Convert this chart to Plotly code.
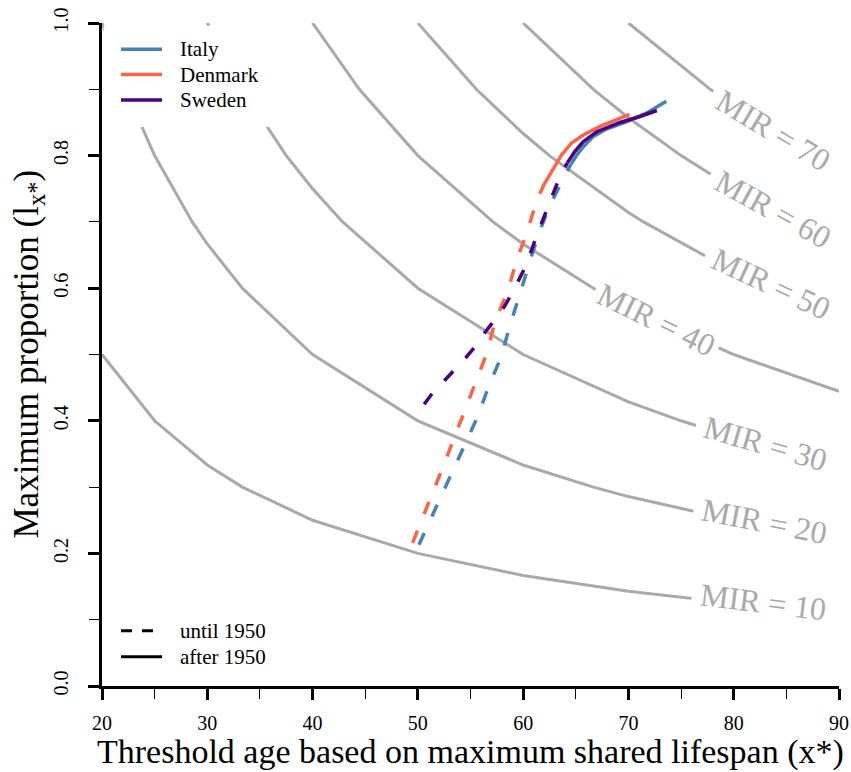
import math
import plotly.graph_objects as go

# ---------------- data ----------------
# Iso-lines of constant MIR
mir10_x = [20, 25, 30, 33.33, 40, 50, 60, 70, 80, 90]
mir10_y = [0.5, 0.4, 0.3333, 0.3, 0.25, 0.2, 0.1667, 0.1429, 0.125, 0.1111]
mir20_x = [20, 22.22, 25, 28.57, 30, 33.33, 40, 50, 60, 66.67, 70, 80, 90]
mir20_y = [1.0, 0.9, 0.8, 0.7, 0.6667, 0.6, 0.5, 0.4, 0.3333, 0.3, 0.2857, 0.25, 0.2222]
mir30_x = [30, 33.33, 37.5, 40, 42.86, 50, 60, 70, 75, 80, 90]
mir30_y = [1.0, 0.9, 0.8, 0.75, 0.7, 0.6, 0.5, 0.4286, 0.4, 0.375, 0.3333]
mir40_x = [40, 44.44, 50, 57.14, 60, 66.67, 70, 80, 90]
mir40_y = [1.0, 0.9, 0.8, 0.7, 0.6667, 0.6, 0.5714, 0.5, 0.4444]
mir50_x = [50, 55.56, 60, 62.5, 70, 71.43, 80, 83.33, 90]
mir50_y = [1.0, 0.9, 0.8333, 0.8, 0.7143, 0.7, 0.625, 0.6, 0.5556]
mir60_x = [60, 66.67, 70, 75, 80, 85.71, 90]
mir60_y = [1.0, 0.9, 0.8571, 0.8, 0.75, 0.7, 0.6667]
mir70_x = [70, 77.78, 80, 87.5, 90]
mir70_y = [1.0, 0.9, 0.875, 0.8, 0.7778]

mir_labels = ["MIR = 10", "MIR = 20", "MIR = 30", "MIR = 40", "MIR = 50", "MIR = 60", "MIR = 70"]

# Country trajectories (x* , l_x*)
italy_until_x = [50.1, 51.9, 53.2, 54.5, 55.7, 56.7, 57.9, 58.7, 59.6, 60.5, 61.4, 62.5, 63.9, 64.5]
italy_until_y = [0.213, 0.276, 0.320, 0.364, 0.407, 0.451, 0.496, 0.541, 0.588, 0.633, 0.679, 0.724, 0.769, 0.786]
italy_after_x = [64.5, 65.1, 65.7, 66.6, 67.9, 69.8, 71.7, 73.6]
italy_after_y = [0.786, 0.801, 0.813, 0.828, 0.840, 0.851, 0.864, 0.882]

denmark_until_x = [49.5, 51.1, 52.2, 53.3, 54.4, 55.5, 56.6, 57.3, 58.5, 59.4, 60.4, 61.3, 62.0]
denmark_until_y = [0.216, 0.278, 0.323, 0.368, 0.413, 0.459, 0.504, 0.549, 0.594, 0.643, 0.686, 0.733, 0.757]
denmark_after_x = [62.0, 62.85, 63.65, 64.6, 65.7, 67.3, 70.1]
denmark_after_y = [0.757, 0.781, 0.801, 0.819, 0.831, 0.844, 0.862]

sweden_until_x = [50.6, 51.4, 52.6, 53.5, 54.6, 55.5, 56.4, 57.3, 58.2, 58.9, 59.7, 60.3, 61.3, 62.4, 63.5, 64.2]
sweden_until_y = [0.425, 0.442, 0.462, 0.477, 0.496, 0.513, 0.534, 0.552, 0.572, 0.591, 0.617, 0.635, 0.680, 0.725, 0.769, 0.789]
sweden_after_x = [64.2, 64.9, 65.7, 67.0, 69.2, 71.1, 72.7]
sweden_after_y = [0.789, 0.806, 0.821, 0.836, 0.850, 0.859, 0.868]

countries = ["Italy", "Denmark", "Sweden"]
periods = ["until 1950", "after 1950"]

x_ticks = [20, 30, 40, 50, 60, 70, 80, 90]
x_minor = [25, 35, 45, 55, 65, 75, 85]
y_ticks = [0.0, 0.2, 0.4, 0.6, 0.8, 1.0]
y_ticklabels = ["0.0", "0.2", "0.4", "0.6", "0.8", "1.0"]
y_minor = [0.1, 0.3, 0.5, 0.7, 0.9]

# ---------------- styling ----------------
FONT = "Liberation Serif"
GRAY = "#A9A9A9"
COL = {"Italy": "#4682B4", "Denmark": "#FF6347", "Sweden": "#4B0082"}
DASH = "13px,18px"
PERIOD_DASH = {"until 1950": "11px,10px", "after 1950": "solid"}

fig = go.Figure()

mir_x = [mir10_x, mir20_x, mir30_x, mir40_x, mir50_x, mir60_x, mir70_x]
mir_y = [mir10_y, mir20_y, mir30_y, mir40_y, mir50_y, mir60_y, mir70_y]
for xs, ys, lab in zip(mir_x, mir_y, mir_labels):
    fig.add_trace(go.Scatter(x=xs, y=ys, mode="lines", name=lab,
                             line=dict(color=GRAY, width=3),
                             showlegend=False, hoverinfo="skip"))

series = [
    ("Italy", italy_until_x, italy_until_y, italy_after_x, italy_after_y),
    ("Denmark", denmark_until_x, denmark_until_y, denmark_after_x, denmark_after_y),
    ("Sweden", sweden_until_x, sweden_until_y, sweden_after_x, sweden_after_y),
]
for name, ux, uy, ax, ay in series:
    fig.add_trace(go.Scatter(x=ux, y=uy, mode="lines", name=name + " (until 1950)",
                             line=dict(color=COL[name], width=3.5, dash=DASH),
                             showlegend=False))
    fig.add_trace(go.Scatter(x=ax, y=ay, mode="lines", name=name + " (after 1950)",
                             line=dict(color=COL[name], width=3.5),
                             showlegend=False))

# white box behind the top legend (as in the original)
fig.add_shape(type="rect", xref="x", yref="y", x0=20.15, x1=37.8, y0=0.843, y1=0.996,
              fillcolor="white", line=dict(width=0), layer="above")

# ---- legends (drawn as keys in paper space) ----
PW, PH = 737.0, 663.0   # plot area size in px
def px_x(p):
    return (p - 102.0) / PW
def px_y(p):
    return (686.0 - p) / PH

key_x0, key_x1, txt_x = px_x(121), px_x(162), px_x(178)
leg1_rows = [49.3, 74.6, 100.0]
for name, row in zip(countries, leg1_rows):
    fig.add_shape(type="line", xref="paper", yref="paper", x0=key_x0, x1=key_x1,
                  y0=px_y(row), y1=px_y(row), line=dict(color=COL[name], width=3.5),
                  layer="above")
    fig.add_annotation(text=name, xref="paper", yref="paper", x=txt_x, y=px_y(row),
                       xanchor="left", yanchor="middle", showarrow=False,
                       font=dict(family=FONT, size=21, color="black"))
leg2_rows = [630.7, 656.7]
for per, row in zip(periods, leg2_rows):
    fig.add_shape(type="line", xref="paper", yref="paper", x0=key_x0, x1=key_x1,
                  y0=px_y(row), y1=px_y(row),
                  line=dict(color="black", width=3, dash=PERIOD_DASH[per]),
                  layer="above")
    fig.add_annotation(text=per, xref="paper", yref="paper", x=txt_x, y=px_y(row),
                       xanchor="left", yanchor="middle", showarrow=False,
                       font=dict(family=FONT, size=21, color="black"))

# MIR labels placed on the lines (white box breaks the line under the text)
lab_x = [83.06, 83.16, 83.25, 72.7, 83.7, 83.9, 84.0]
lab_y = [0.127, 0.247, 0.365, 0.552, 0.605, 0.718, 0.836]
lab_ang = [7, 11, 16, 26, 25, 29, 31]
lab_tail = [True, True, True, False, True, True, True]   # label sits at the line's end
for t, lx, ly, ang, tail in zip(mir_labels, lab_x, lab_y, lab_ang, lab_tail):
    shift = 6 if tail else 0
    fig.add_annotation(x=lx, y=ly, xref="x", yref="y",
                       text=t + ("\u00a0\u00a0" if tail else ""), showarrow=False,
                       textangle=ang, bgcolor="white", borderpad=4 if not tail else 8,
                       xshift=shift * math.cos(math.radians(ang)),
                       yshift=-shift * math.sin(math.radians(ang)),
                       font=dict(family=FONT, size=32, color=GRAY))

# axis titles
fig.add_annotation(text="Threshold age based on maximum shared lifespan (x*)",
                   xref="paper", yref="paper", x=0.5, y=px_y(752), yanchor="middle",
                   showarrow=False, font=dict(family=FONT, size=34, color="black"))
fig.add_annotation(text="Maximum proportion (l<sub>x*</sub>)",
                   xref="paper", yref="paper", x=px_x(28), y=0.5, xanchor="center",
                   yanchor="middle", textangle=-90, showarrow=False,
                   font=dict(family=FONT, size=35, color="black"))

axis_common = dict(showgrid=False, zeroline=False, showline=True, linewidth=3,
                   linecolor="black", ticks="outside", ticklen=11, tickwidth=3,
                   tickcolor="black", automargin=False,
                   tickfont=dict(family=FONT, size=20, color="black"))

fig.update_layout(
    width=851, height=772,
    margin=dict(l=102, r=12, t=23, b=86, autoexpand=False),
    paper_bgcolor="white", plot_bgcolor="white",
    font=dict(family=FONT),
    hovermode=False,
    showlegend=False,
    xaxis=dict(range=[20, 90], tickmode="array", tickvals=x_ticks,
               minor=dict(tickmode="array", tickvals=x_minor, ticks="outside",
                          ticklen=10, tickwidth=1.2, tickcolor="black"),
               ticklabelstandoff=6, **axis_common),
    yaxis=dict(range=[0, 1], tickmode="array", tickvals=y_ticks, ticktext=y_ticklabels,
               tickangle=-90,
               minor=dict(tickmode="array", tickvals=y_minor, ticks="outside",
                          ticklen=10, tickwidth=1.2, tickcolor="black"),
               ticklabelstandoff=12, **axis_common),
)

fig.write_html("out.html")
